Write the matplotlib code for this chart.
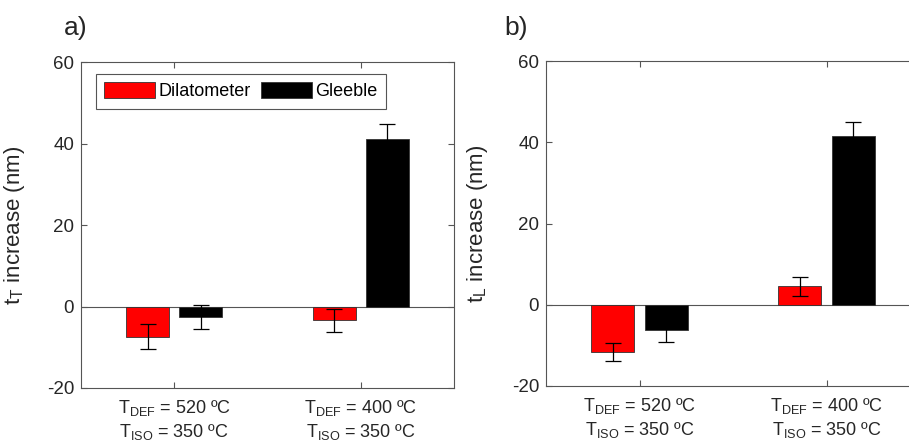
import numpy as np
import matplotlib
matplotlib.use("Agg")
import matplotlib.pyplot as plt

plt.rcParams['font.family'] = ['Liberation Sans', 'DejaVu Sans']
plt.rcParams['mathtext.fontset'] = 'custom'
plt.rcParams['mathtext.rm'] = 'Liberation Sans'
plt.rcParams['mathtext.it'] = 'Liberation Sans'
plt.rcParams['axes.unicode_minus'] = False

# Data
groups = [r'T$_{\rm DEF}$ = 520 ºC' + '\n' + r'T$_{\rm ISO}$ = 350 ºC',
          r'T$_{\rm DEF}$ = 400 ºC' + '\n' + r'T$_{\rm ISO}$ = 350 ºC']
series = ['Dilatometer', 'Gleeble']
colors = ['#ff0000', '#000000']

# panel a) t_T increase
dil_a = [-7.4, -3.4]
dil_a_err = [3.0, 2.8]
gle_a = [-2.6, 41.2]
gle_a_err = [2.9, 3.6]

# panel b) t_L increase
dil_b = [-11.7, 4.5]
dil_b_err = [2.2, 2.4]
gle_b = [-6.2, 41.5]
gle_b_err = [2.9, 3.5]

W, H = 909, 445
fig = plt.figure(figsize=(W / 100, H / 100), dpi=100)
ax_a = fig.add_axes([81 / W, (H - 388) / H, 373 / W, 326 / H])
ax_b = fig.add_axes([546 / W, (H - 386) / H, 374 / W, 325 / H])

tc = '#262626'
x = np.arange(1, len(groups) + 1)
bw = 0.23
off = 0.142


def draw_panel(ax, dil, dil_err, gle, gle_err, ylabel):
    ax.bar(x - off, dil, bw, color=colors[0], edgecolor='#333333', linewidth=0.6, label=series[0], zorder=2)
    ax.bar(x + off, gle, bw, color=colors[1], edgecolor='#333333', linewidth=0.6, label=series[1], zorder=2)
    ax.errorbar(x - off, dil, yerr=dil_err, fmt='none', ecolor='k', elinewidth=0.9, capsize=6, capthick=0.9, zorder=3)
    ax.errorbar(x + off, gle, yerr=gle_err, fmt='none', ecolor='k', elinewidth=0.9, capsize=6, capthick=0.9, zorder=3)
    ax.axhline(0, color='#555555', lw=0.8, zorder=1)
    ax.set_xlim(0.5, 2.5)
    ax.set_ylim(-20, 60)
    ax.set_yticks([-20, 0, 20, 40, 60])
    ax.set_xticks(x)
    ax.set_xticklabels(groups, fontsize=13, color=tc, linespacing=1.3)
    ax.tick_params(axis='y', labelsize=13.5, colors=tc, labelcolor=tc)
    ax.tick_params(direction='in', length=4, width=0.8, top=True, right=True, color='#555555', pad=5)
    ax.tick_params(axis='x', pad=7)
    for s in ax.spines.values():
        s.set_color('#555555')
        s.set_linewidth(0.8)
    ax.set_ylabel(ylabel, fontsize=16, color=tc)


draw_panel(ax_a, dil_a, dil_a_err, gle_a, gle_a_err, r't$_{\rm T}$ increase (nm)')
draw_panel(ax_b, dil_b, dil_b_err, gle_b, gle_b_err, r't$_{\rm L}$ increase (nm)')
ax_a.yaxis.set_label_coords(-0.145, 0.5)
ax_b.yaxis.set_label_coords(-0.15, 0.5)

leg = ax_a.legend(loc='upper left', bbox_to_anchor=(0.04, 0.963), ncol=2, fontsize=13,
                  handlelength=2.8, handleheight=1.0, handletextpad=0.2, columnspacing=0.6,
                  borderpad=0.45, borderaxespad=0, fancybox=False, framealpha=1)
leg.get_frame().set_edgecolor('#555555')
leg.get_frame().set_linewidth(0.8)

fig.text(64 / W, 1 - 28 / H, 'a)', fontsize=19, color=tc, va='center')
fig.text(504 / W, 1 - 28 / H, 'b)', fontsize=19, color=tc, va='center')

fig.savefig('out.png', dpi=100)
